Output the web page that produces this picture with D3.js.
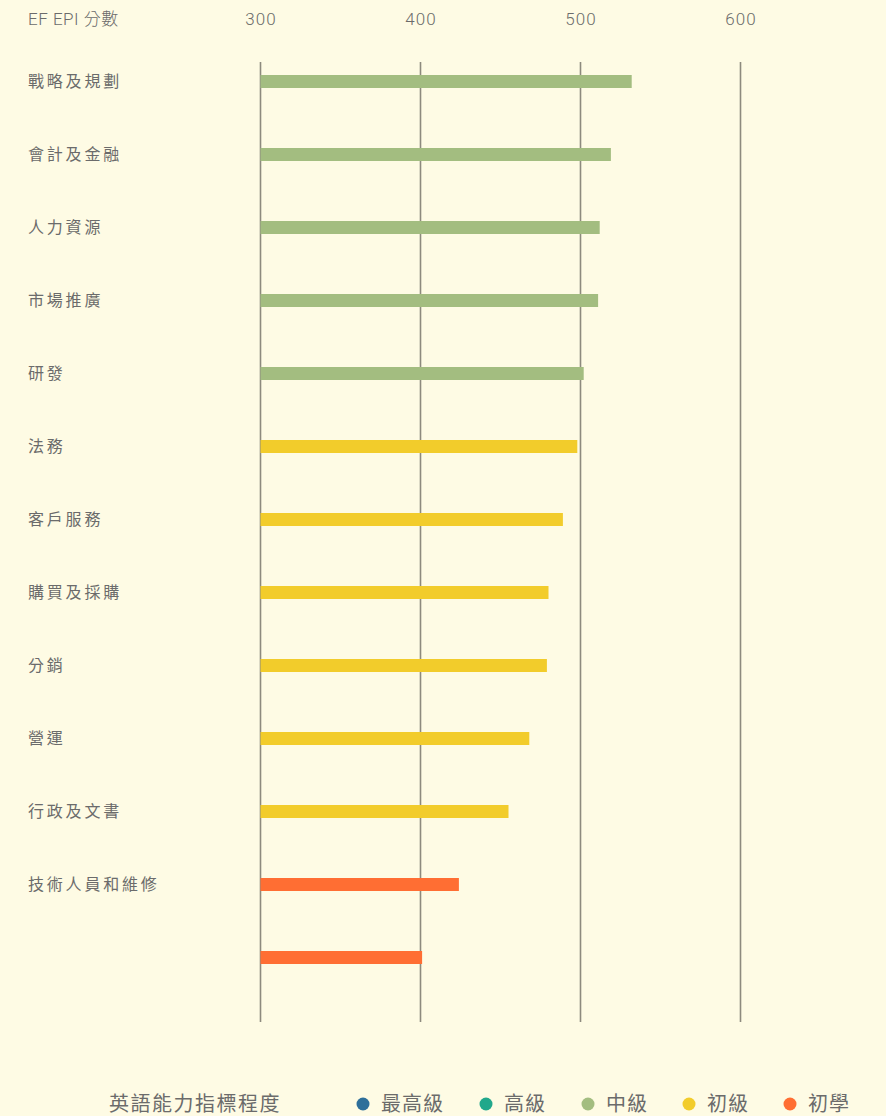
<!DOCTYPE html>
<html>
<head>
<meta charset="utf-8">
<script src="https://cdn.jsdelivr.net/npm/d3@7"></script>
<style>
  body { margin: 0; background: #fefbe4; }
  svg { display: block; }
  text { font-family: Roboto, "Noto Sans CJK TC", sans-serif; fill: #6b6b6b; }
</style>
</head>
<body>
<div id="chart"></div>
<script>
// Data
const categories = ['戰略及規劃', '會計及金融', '人力資源', '市場推廣', '研發', '法務', '客戶服務',
    '購買及採購', '分銷', '營運', '行政及文書', '技術人員和維修', ''];
const scores = [532, 519, 512, 511, 502, 498, 489, 480, 479, 468, 455, 424, 401];
const levels = ['中級', '中級', '中級', '中級', '中級', '初級', '初級', '初級', '初級', '初級', '初級', '初學', '初學'];
const levelNames = ['最高級', '高級', '中級', '初級', '初學'];
const levelColors = ['#2e6f9a', '#21a88b', '#a3bd80', '#f2cc2b', '#ff6e33'];
const xTicks = [300, 400, 500, 600];

const width = 886, height = 1116;
const color = d3.scaleOrdinal().domain(levelNames).range(levelColors);

const svg = d3.select('#chart').append('svg')
    .attr('width', width)
    .attr('height', height);

const x = d3.scaleLinear().domain([300, 600]).range([260.5, 740.5]);
const y = d3.scaleBand().domain(categories.map((d, i) => i)).range([45, 45 + 13 * 73]).paddingInner(0);

// Gridlines
svg.append('g')
    .selectAll('line')
    .data(xTicks)
    .enter()
    .append('line')
    .attr('x1', d => x(d))
    .attr('x2', d => x(d))
    .attr('y1', 62)
    .attr('y2', 1022)
    .attr('stroke', '#8d8a7e')
    .attr('stroke-width', 1.6);

// Top axis labels
const axis = d3.axisTop(x).tickValues(xTicks).tickSize(0).tickPadding(0);
const axisG = svg.append('g')
    .attr('transform', 'translate(0,25)')
    .call(axis);
axisG.select('.domain').remove();
axisG.selectAll('text')
    .style('font-size', '17px')
    .style('font-weight', 300)
    .style('letter-spacing', '1px')
    .attr('fill', '#666');

svg.append('text')
    .attr('x', 28)
    .attr('y', 25)
    .style('font-size', '17px')
    .style('font-weight', 300)
    .style('letter-spacing', '0.5px')
    .attr('fill', '#666')
    .text('EF EPI 分數');

// Bars
const barH = 13;
svg.append('g')
    .selectAll('rect')
    .data(scores)
    .enter()
    .append('rect')
    .attr('x', x(300))
    .attr('y', (d, i) => y(i) + y.bandwidth() / 2 - barH / 2)
    .attr('width', d => x(d) - x(300))
    .attr('height', barH)
    .attr('fill', (d, i) => color(levels[i]));

// Category labels
svg.append('g')
    .selectAll('text')
    .data(categories)
    .enter()
    .append('text')
    .attr('x', 28)
    .attr('y', (d, i) => y(i) + y.bandwidth() / 2)
    .attr('dy', '0.35em')
    .style('font-size', '16px')
    .style('letter-spacing', '2.8px')
    .text(d => d);

// Legend
const legendY = 1104;
svg.append('text')
    .attr('x', 109)
    .attr('y', legendY)
    .attr('dy', '0.35em')
    .style('font-size', '20px')
    .style('letter-spacing', '1.5px')
    .text('英語能力指標程度');

const legendX = [363, 486, 588, 689, 790];
const legend = svg.append('g')
    .selectAll('g')
    .data(levelNames)
    .enter()
    .append('g')
    .attr('transform', (d, i) => `translate(${legendX[i]},${legendY})`);

legend.append('circle')
    .attr('r', 6.5)
    .attr('fill', d => color(d));

legend.append('text')
    .attr('x', 18)
    .attr('dy', '0.35em')
    .style('font-size', '20px')
    .style('letter-spacing', '1px')
    .text(d => d);
</script>
</body>
</html>
